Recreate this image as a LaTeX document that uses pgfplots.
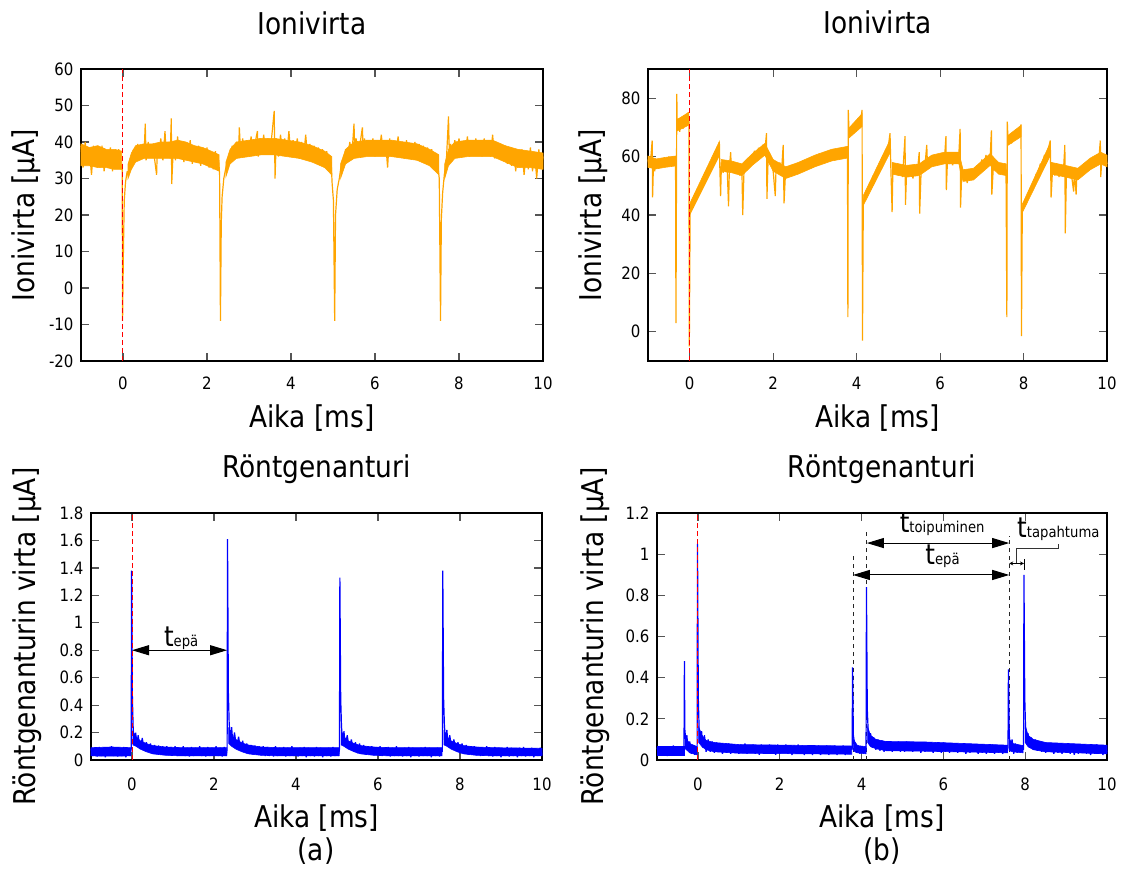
\documentclass[border=0pt]{standalone}
\usepackage{fontspec}
\setmainfont{DejaVu Sans}[FakeStretch=0.88]
\usepackage{pgfplots}
\pgfplotsset{compat=1.18}
\usetikzlibrary{arrows.meta}
\definecolor{ion}{HTML}{FFA500}
\definecolor{xr}{HTML}{0000FF}
\definecolor{redline}{HTML}{FF0000}
\definecolor{tickgray}{HTML}{555555}
\newcommand{\fbig}{\fontsize{30}{36}\selectfont}
\newcommand{\ftick}{\fontsize{17}{20}\selectfont}
\newcommand{\tsym}[1]{{\fontsize{28}{30}\selectfont t}{\fontsize{15}{18}\selectfont #1}}
\pgfplotsset{
  myaxis/.style={
    scale only axis, anchor=south west,
    xmin=-1, xmax=10, xtick={0,2,4,6,8,10},
    axis line style={black, line width=1.3pt},
    tick style={tickgray, line width=1.2pt},
    major tick length=8pt, tick align=inside,
    /pgf/number format/assume math mode=true,
    every tick label/.append style={font=\ftick},
    xticklabel style={anchor=base, yshift=-28pt},
    yticklabel style={anchor=east, xshift=-4pt},
    every axis title/.style={at={(axis description cs:0.5,1)}, anchor=base, yshift=35pt, font=\fbig},
    every axis x label/.style={at={(axis description cs:0.5,0)}, anchor=base, yshift=-66pt, font=\fbig},
    every axis y label/.style={at={(axis description cs:0,0.5)}, rotate=90, anchor=base, font=\fbig},
    clip=false,
  },
  ionl/.style={color=ion, line width=1.2pt, line join=bevel, mark=none},
  xrl/.style={color=xr, line width=1.2pt, line join=bevel, mark=none},
  ionf/.style={fill=ion, draw=ion, line width=0.6pt, mark=none},
  xrf/.style={fill=xr, draw=xr, line width=0.6pt, mark=none},
  redl/.style={draw=redline, color=redline, dash pattern=on 5pt off 3pt, line width=1pt, mark=none},
  blk/.style={color=black!85, dash pattern=on 4pt off 4pt, line width=0.9pt, mark=none},
}
\begin{document}
\begin{tikzpicture}
\useasboundingbox (0pt,0pt) rectangle (1122pt,-873pt);
% ---------------- top left
\begin{axis}[myaxis, at={(81pt,-361pt)}, width=462pt, height=292pt,
  ymin=-20, ymax=60, ytick={-20,-10,0,10,20,30,40,50,60},
  title={Ionivirta}, xlabel={Aika [ms]}, ylabel={Ionivirta [µA]}, ylabel style={yshift=46pt}]
\addplot[ionf] coordinates {(-1,39.5) (-0.8,38.5) (-0.6,39) (-0.4,38) (-0.2,38) (-0.03,37.5) (-0.03,32.5) (-0.2,32.5) (-0.4,33) (-0.6,33) (-0.8,33.5) (-1,33.5)} -- cycle;
\addplot[ionf] coordinates {(0.12,34) (0.2,37) (0.3,39) (0.5,39.5) (0.7,39.5) (0.9,40) (1.1,40) (1.3,40.5) (1.5,40) (1.7,39) (1.9,38.5) (2.1,37.5) (2.29,36.5) (2.29,32) (2.1,33) (1.9,34) (1.7,34.5) (1.5,35) (1.3,35.5) (1.1,35.5) (0.9,35.5) (0.7,35.5) (0.5,35.5) (0.3,34.5) (0.2,32.5) (0.12,30)} -- cycle;
\addplot[ionf] coordinates {(2.45,34.5) (2.55,38) (2.7,40) (3.0,40.5) (3.3,41) (3.6,41) (3.9,40.5) (4.2,40) (4.5,39) (4.8,37.5) (4.97,36) (4.97,31) (4.8,33) (4.5,34.5) (4.2,35.5) (3.9,36) (3.6,36.5) (3.3,36.5) (3.0,36) (2.7,35.5) (2.55,34) (2.45,30.5)} -- cycle;
\addplot[ionf] coordinates {(5.18,34) (5.3,38) (5.5,40) (5.8,40.5) (6.1,40.5) (6.4,40.5) (6.7,40) (7.0,39.5) (7.3,38) (7.52,36.5) (7.52,31) (7.3,33.5) (7.0,35) (6.7,35.5) (6.4,36) (6.1,36) (5.8,36) (5.5,35.5) (5.3,34) (5.18,30)} -- cycle;
\addplot[ionf] coordinates {(7.66,34) (7.75,38) (7.9,40) (8.2,40.5) (8.5,40.5) (8.8,40.5) (9.1,39) (9.4,38) (9.7,37.5) (10,37) (10,32.5) (9.7,33) (9.4,33) (9.1,34.5) (8.8,36) (8.5,36) (8.2,36) (7.9,35.5) (7.75,33.5) (7.66,30)} -- cycle;
\addplot[ionl] coordinates {
(-1.00,39) (-0.95,33) (-0.90,40) (-0.85,34) (-0.80,38) (-0.75,31) (-0.70,39) (-0.65,34) (-0.60,37.5) (-0.55,33) (-0.50,39) (-0.45,32) (-0.40,37) (-0.35,33.5) (-0.30,38.5) (-0.25,32) (-0.20,36.5) (-0.15,33) (-0.10,38) (-0.05,32.5) (-0.02,34) (-0.01,-9) (0.01,10) (0.03,24) (0.06,29) (0.10,32) (0.13,30.5) (0.16,35) (0.20,33.5) (0.25,38) (0.30,35) (0.35,39.5) (0.40,35.5) (0.45,38.5) (0.50,36) (0.53,45) (0.55,35) (0.60,40) (0.65,36) (0.70,39) (0.75,35.5) (0.80,31) (0.82,39.5) (0.85,36) (0.90,41) (0.95,35) (1.00,43) (1.03,36) (1.08,40) (1.12,35.5) (1.15,46.5) (1.16,28.5) (1.20,39) (1.25,35) (1.30,41.5) (1.35,35.5) (1.40,40) (1.45,34.5) (1.50,39.5) (1.55,35) (1.60,40.5) (1.65,34) (1.70,38.5) (1.75,35) (1.80,39) (1.85,33.5) (1.90,38) (1.95,34) (2.00,38.5) (2.05,33) (2.10,37) (2.15,32.5) (2.20,37.5) (2.25,33) (2.28,35) (2.30,31) (2.32,-9) (2.34,18) (2.36,25) (2.40,30) (2.45,33) (2.50,35.5) (2.55,34.5) (2.60,39) (2.65,36) (2.70,40) (2.75,36.5) (2.77,44) (2.80,37) (2.85,41) (2.90,36) (2.95,40.5) (3.00,37) (3.05,41.5) (3.10,36.5) (3.15,40) (3.20,43) (3.22,36) (3.25,41) (3.30,37) (3.35,42) (3.40,36.5) (3.45,41) (3.50,37) (3.55,42.5) (3.60,48.5) (3.62,30) (3.65,41) (3.70,36) (3.75,42) (3.80,37) (3.85,41) (3.90,36.5) (3.95,43) (4.00,36) (4.05,40.5) (4.10,37) (4.15,41) (4.20,35.5) (4.25,40) (4.30,36) (4.35,42) (4.40,35) (4.45,39.5) (4.50,35.5) (4.55,39) (4.60,34) (4.65,38.5) (4.70,34.5) (4.75,38) (4.80,33) (4.85,37.5) (4.90,33) (4.95,36) (4.98,28.5) (5.01,24) (5.04,-9) (5.06,20) (5.10,27) (5.15,30) (5.20,34) (5.25,33.5) (5.30,38) (5.35,36) (5.40,40) (5.45,36.5) (5.50,45) (5.52,37) (5.55,41) (5.60,36) (5.65,40) (5.70,44) (5.72,37) (5.75,41) (5.80,36.5) (5.85,40.5) (5.90,37) (5.95,41) (6.00,36) (6.05,40) (6.10,37) (6.15,42) (6.20,36.5) (6.25,40.5) (6.30,33) (6.32,37) (6.35,41) (6.40,36) (6.45,40) (6.50,37) (6.55,41.5) (6.60,36.5) (6.65,40) (6.70,36) (6.75,40.5) (6.80,35.5) (6.85,39.5) (6.90,36) (6.95,40) (7.00,35) (7.05,39.5) (7.10,35.5) (7.15,39) (7.20,34.5) (7.25,38.5) (7.30,34) (7.35,38) (7.40,33.5) (7.45,37) (7.50,33) (7.53,30) (7.56,-9) (7.58,19) (7.61,26) (7.65,31) (7.70,35) (7.75,47) (7.77,36) (7.80,39.5) (7.85,36) (7.90,40.5) (7.95,37) (8.00,41) (8.05,36.5) (8.10,40) (8.15,37) (8.20,41.5) (8.25,36) (8.30,40) (8.35,36.5) (8.40,41) (8.45,37) (8.50,40.5) (8.55,36) (8.60,41) (8.65,36.5) (8.70,40) (8.75,36) (8.80,42) (8.85,35.5) (8.90,40) (8.95,36) (9.00,39.5) (9.05,35) (9.10,39) (9.15,34) (9.20,38.5) (9.25,33.5) (9.30,38) (9.35,32) (9.40,37.5) (9.45,33) (9.50,38) (9.55,31) (9.60,37) (9.65,32.5) (9.70,38.5) (9.75,32) (9.80,37) (9.85,30) (9.90,38) (9.95,33) (10.00,36)
};
\addplot[redl] coordinates {(0,-20) (0,60)};
\end{axis}
% ---------------- top right
\begin{axis}[myaxis, at={(648pt,-361pt)}, width=459pt, height=292pt,
  ymin=-10, ymax=90, ytick={0,20,40,60,80},
  title={Ionivirta}, xlabel={Aika [ms]}, ylabel={Ionivirta [µA]}, ylabel style={yshift=47pt}]
\addplot[ionf] coordinates {(-1,60.2) (-0.8,59.2) (-0.6,59.7) (-0.34,60.2) (-0.34,56.8) (-0.6,56.3) (-0.8,55.8) (-1,56.3)} -- cycle;
\addplot[ionf] coordinates {(-0.3,72.7) (-0.02,75.2) (-0.02,70.8) (-0.3,68.8)} -- cycle;
\addplot[ionf] coordinates {(0.01,44.2) (0.71,65.2) (0.71,60.3) (0.01,40.3)} -- cycle;
\addplot[ionf] coordinates {(0.76,59) (1.0,58.5) (1.25,57.5) (1.5,61) (1.8,64.5) (2.0,59) (2.3,56.5) (2.6,58) (3.0,60.5) (3.4,62.5) (3.78,63.5) (3.78,59.5) (3.4,58.5) (3.0,56.5) (2.6,54) (2.3,52.5) (2.0,55) (1.8,60.5) (1.5,57) (1.25,53.5) (1.0,54.5) (0.76,55)} -- cycle;
\addplot[ionf] coordinates {(3.81,69.7) (4.13,74.7) (4.13,70.3) (3.81,66.3)} -- cycle;
\addplot[ionf] coordinates {(4.16,46.7) (4.8,65.7) (4.8,61.3) (4.16,43.3)} -- cycle;
\addplot[ionf] coordinates {(4.85,58) (5.2,57) (5.5,57.5) (5.8,60.5) (6.1,61.5) (6.45,61.5) (6.55,55.5) (6.8,56) (7.2,61) (7.4,58) (7.59,57.5) (7.59,53.5) (7.4,54) (7.2,57) (6.8,52) (6.55,51.5) (6.45,57.5) (6.1,57.5) (5.8,56.5) (5.5,53.5) (5.2,53) (4.85,54)} -- cycle;
\addplot[ionf] coordinates {(7.62,67.2) (7.94,70.7) (7.94,66.8) (7.62,63.8)} -- cycle;
\addplot[ionf] coordinates {(7.97,43.7) (8.64,64.7) (8.64,60.3) (7.97,40.8)} -- cycle;
\addplot[ionf] coordinates {(8.67,58) (9.0,57) (9.3,56) (9.6,59.5) (9.85,61.5) (10,60.5) (10,56.5) (9.85,57.5) (9.6,55.5) (9.3,52) (9.0,53) (8.67,54)} -- cycle;
\addplot[ionl] coordinates {
(-1.00,59) (-0.97,56.5) (-0.93,60) (-0.90,65.5) (-0.89,46) (-0.87,57) (-0.84,55) (-0.80,58.5) (-0.75,56) (-0.70,59) (-0.65,56.5) (-0.60,59.5) (-0.55,57) (-0.50,60) (-0.45,57) (-0.40,60) (-0.36,57.5) (-0.34,59) (-0.33,3) (-0.31,81.5) (-0.30,70) (-0.27,73) (-0.24,68.5) (-0.20,73.5) (-0.16,69.5) (-0.12,74) (-0.08,70.5) (-0.04,75) (-0.02,72) (-0.01,-5) (0.01,41.5) (0.04,44) (0.08,42.5) (0.12,46) (0.16,45) (0.20,48.5) (0.25,47.5) (0.30,51) (0.35,50.5) (0.40,54) (0.45,53.5) (0.50,57.5) (0.55,57) (0.60,61) (0.65,60.5) (0.70,64) (0.71,65) (0.72,57) (0.74,46.5) (0.76,58) (0.80,54.5) (0.85,58.5) (0.90,55) (0.93,43) (0.95,56) (0.98,61.5) (1.00,55.5) (1.05,58) (1.10,54) (1.15,57.5) (1.20,53.5) (1.25,56) (1.27,40) (1.30,55) (1.35,58) (1.40,56.5) (1.45,60) (1.50,58.5) (1.55,62) (1.60,60.5) (1.65,63) (1.70,61.5) (1.75,64) (1.80,62) (1.84,68) (1.85,45.5) (1.88,60) (1.92,57.5) (1.96,59) (2.00,55) (2.05,46.5) (2.07,57) (2.12,55) (2.16,58) (2.20,55) (2.24,64) (2.26,44) (2.30,56) (2.35,53) (2.40,55) (2.45,53.5) (2.50,56) (2.55,54.5) (2.60,57) (2.65,55.5) (2.70,58) (2.75,56.5) (2.80,58.5) (2.85,57) (2.90,59.5) (2.95,57.5) (3.00,60) (3.05,58) (3.10,61) (3.15,58.5) (3.20,60.5) (3.25,59) (3.30,61.5) (3.35,59) (3.40,62) (3.45,59.5) (3.50,61.5) (3.55,60) (3.60,62.5) (3.65,60) (3.70,62) (3.75,60.5) (3.78,62) (3.79,5) (3.80,76) (3.82,67) (3.86,69.5) (3.90,68) (3.95,70.5) (4.00,69.5) (4.05,72) (4.10,72.5) (4.13,76) (4.14,-3) (4.16,44.5) (4.20,47) (4.25,46.5) (4.30,50) (4.35,50) (4.40,53.5) (4.45,53) (4.50,56.5) (4.55,56) (4.60,59.5) (4.65,59) (4.70,62) (4.75,62.5) (4.80,68) (4.82,56) (4.85,41) (4.87,57) (4.90,54) (4.95,57.5) (5.00,53.5) (5.05,56.5) (5.10,53) (5.16,67) (5.17,43.5) (5.20,56) (5.25,53) (5.30,56.5) (5.35,52.5) (5.40,57) (5.45,54) (5.50,61.5) (5.51,40.5) (5.55,57) (5.60,55) (5.65,59) (5.68,64) (5.70,56) (5.75,59.5) (5.80,57) (5.85,60) (5.90,57.5) (5.95,60.5) (6.00,58) (6.05,61) (6.10,58) (6.14,67) (6.15,48.5) (6.18,60) (6.22,57.5) (6.26,60) (6.30,57) (6.35,60.5) (6.40,58) (6.45,61) (6.48,69.5) (6.49,42.5) (6.52,55) (6.56,52) (6.60,54.5) (6.65,51) (6.70,54) (6.75,52) (6.80,55.5) (6.85,54) (6.90,57) (6.95,55.5) (7.00,59) (7.05,57.5) (7.10,60.5) (7.15,58) (7.20,60) (7.23,69) (7.24,47) (7.28,57.5) (7.32,55) (7.36,57) (7.40,54.5) (7.45,56.5) (7.50,54) (7.55,56.5) (7.58,55) (7.60,5) (7.61,72) (7.63,65) (7.67,66.5) (7.71,64.5) (7.75,67.5) (7.80,66.5) (7.85,69) (7.90,68.5) (7.94,71) (7.95,-1.5) (7.97,41.5) (8.00,44) (8.05,43.5) (8.10,47) (8.15,47) (8.20,50.5) (8.25,50.5) (8.30,54) (8.35,54) (8.40,57.5) (8.45,57) (8.50,60.5) (8.55,60) (8.60,63) (8.64,65.5) (8.66,46) (8.70,57) (8.75,53.5) (8.80,56.5) (8.85,53) (8.90,57) (8.95,53.5) (8.99,64) (9.00,33.7) (9.03,56) (9.08,53) (9.12,56) (9.16,52.5) (9.20,48) (9.22,55) (9.26,47) (9.28,55) (9.32,53) (9.36,56) (9.40,54) (9.45,57) (9.50,55.5) (9.55,58.5) (9.60,57) (9.65,59.5) (9.70,58) (9.75,60.5) (9.80,58.5) (9.84,65.5) (9.85,53) (9.88,60) (9.92,57.5) (9.96,60) (10.00,57.5)
};
\addplot[redl] coordinates {(0,-10) (0,90)};
\end{axis}
% ---------------- bottom left
\begin{axis}[myaxis, at={(91pt,-760pt)}, width=451pt, height=247pt,
  ymin=0, ymax=1.8, ytick={0,0.2,0.4,0.6,0.8,1,1.2,1.4,1.6,1.8},
  xticklabel style={yshift=-2pt},
  title={Röntgenanturi}, title style={yshift=1pt}, xlabel={Aika [ms]}, xlabel style={yshift=-1pt},
  ylabel={Röntgenanturin virta [µA]}, ylabel style={yshift=55pt}]
\addplot[xrf] coordinates {(-1,0.09) (-0.5,0.095) (-0.03,0.09) (-0.03,0.03) (-0.5,0.028) (-1,0.03)} -- cycle;
\addplot[xrf] coordinates {(0.02,0.21) (0.1,0.17) (0.2,0.14) (0.35,0.12) (0.5,0.105) (0.8,0.095) (1.2,0.09) (2.31,0.09) (2.31,0.03) (1.2,0.03) (0.8,0.035) (0.5,0.045) (0.35,0.06) (0.2,0.08) (0.1,0.1) (0.02,0.11)} -- cycle;
\addplot[xrf] coordinates {(2.36,0.23) (2.43,0.18) (2.53,0.15) (2.68,0.125) (2.83,0.11) (3.13,0.095) (3.6,0.09) (5.05,0.09) (5.05,0.03) (3.6,0.03) (3.13,0.035) (2.83,0.045) (2.68,0.06) (2.53,0.08) (2.43,0.1) (2.36,0.12)} -- cycle;
\addplot[xrf] coordinates {(5.1,0.21) (5.17,0.17) (5.27,0.14) (5.42,0.12) (5.57,0.105) (5.87,0.095) (6.3,0.09) (7.56,0.09) (7.56,0.03) (6.3,0.03) (5.87,0.035) (5.57,0.045) (5.42,0.06) (5.27,0.08) (5.17,0.1) (5.1,0.11)} -- cycle;
\addplot[xrf] coordinates {(7.61,0.21) (7.68,0.17) (7.78,0.14) (7.93,0.12) (8.08,0.105) (8.38,0.095) (8.8,0.09) (10,0.085) (10,0.03) (8.8,0.03) (8.38,0.035) (8.08,0.045) (7.93,0.06) (7.78,0.08) (7.68,0.1) (7.61,0.11)} -- cycle;
\addplot[xrl] coordinates {
(-1,0.08) (-0.95,0.03) (-0.9,0.09) (-0.85,0.025) (-0.8,0.095) (-0.75,0.03) (-0.7,0.085) (-0.65,0.02) (-0.6,0.09) (-0.55,0.035) (-0.5,0.1) (-0.45,0.03) (-0.4,0.085) (-0.35,0.025) (-0.3,0.09) (-0.25,0.03) (-0.2,0.095) (-0.15,0.02) (-0.1,0.085) (-0.05,0.03) (-0.02,0.08) (-0.01,1.38) (0.01,0.45) (0.03,0.22) (0.06,0.12) (0.09,0.2) (0.12,0.1) (0.15,0.18) (0.2,0.08) (0.25,0.16) (0.3,0.07) (0.35,0.13) (0.4,0.06) (0.45,0.12) (0.5,0.05) (0.55,0.11) (0.6,0.05) (0.65,0.105) (0.7,0.04) (0.75,0.1) (0.8,0.04) (0.85,0.1) (0.9,0.035) (0.95,0.095) (1,0.04) (1.05,0.1) (1.1,0.03) (1.15,0.09) (1.2,0.035) (1.25,0.1) (1.3,0.03) (1.35,0.09) (1.4,0.025) (1.45,0.095) (1.5,0.03) (1.55,0.09) (1.6,0.035) (1.65,0.1) (1.7,0.03) (1.75,0.09) (1.8,0.025) (1.85,0.095) (1.9,0.03) (1.95,0.09) (2,0.035) (2.05,0.1) (2.1,0.03) (2.15,0.09) (2.2,0.025) (2.25,0.095) (2.3,0.03) (2.32,0.08) (2.33,1.61) (2.35,0.5) (2.37,0.27) (2.4,0.14) (2.43,0.24) (2.46,0.12) (2.5,0.2) (2.55,0.09) (2.6,0.17) (2.65,0.07) (2.7,0.14) (2.75,0.06) (2.8,0.12) (2.85,0.05) (2.9,0.11) (2.95,0.04) (3,0.105) (3.05,0.04) (3.1,0.1) (3.15,0.035) (3.2,0.1) (3.25,0.03) (3.3,0.095) (3.35,0.03) (3.4,0.09) (3.45,0.025) (3.5,0.1) (3.55,0.03) (3.6,0.09) (3.65,0.035) (3.7,0.095) (3.75,0.025) (3.8,0.09) (3.85,0.03) (3.9,0.1) (3.95,0.03) (4,0.085) (4.05,0.025) (4.1,0.09) (4.15,0.03) (4.2,0.095) (4.25,0.02) (4.3,0.09) (4.35,0.03) (4.4,0.085) (4.45,0.025) (4.5,0.095) (4.55,0.03) (4.6,0.09) (4.65,0.02) (4.7,0.085) (4.75,0.03) (4.8,0.09) (4.85,0.025) (4.9,0.095) (4.95,0.03) (5,0.085) (5.04,0.03) (5.06,0.08) (5.07,1.33) (5.09,0.45) (5.11,0.24) (5.14,0.13) (5.17,0.21) (5.2,0.1) (5.25,0.18) (5.3,0.08) (5.35,0.15) (5.4,0.07) (5.45,0.13) (5.5,0.05) (5.55,0.12) (5.6,0.05) (5.65,0.11) (5.7,0.04) (5.75,0.1) (5.8,0.04) (5.85,0.1) (5.9,0.035) (5.95,0.095) (6,0.04) (6.05,0.1) (6.1,0.03) (6.15,0.09) (6.2,0.035) (6.25,0.095) (6.3,0.025) (6.35,0.09) (6.4,0.03) (6.45,0.1) (6.5,0.03) (6.55,0.085) (6.6,0.025) (6.65,0.09) (6.7,0.03) (6.75,0.095) (6.8,0.02) (6.85,0.09) (6.9,0.03) (6.95,0.085) (7,0.025) (7.05,0.09) (7.1,0.03) (7.15,0.095) (7.2,0.03) (7.25,0.09) (7.3,0.02) (7.35,0.085) (7.4,0.03) (7.45,0.09) (7.5,0.025) (7.55,0.08) (7.57,0.06) (7.58,1.38) (7.6,0.45) (7.62,0.25) (7.65,0.13) (7.68,0.22) (7.71,0.1) (7.75,0.18) (7.8,0.08) (7.85,0.15) (7.9,0.07) (7.95,0.13) (8,0.05) (8.05,0.12) (8.1,0.05) (8.15,0.11) (8.2,0.04) (8.25,0.1) (8.3,0.04) (8.35,0.1) (8.4,0.035) (8.45,0.095) (8.5,0.03) (8.55,0.09) (8.6,0.035) (8.65,0.1) (8.7,0.03) (8.75,0.09) (8.8,0.025) (8.85,0.095) (8.9,0.03) (8.95,0.09) (9,0.02) (9.05,0.085) (9.1,0.03) (9.15,0.095) (9.2,0.025) (9.25,0.09) (9.3,0.03) (9.35,0.085) (9.4,0.02) (9.45,0.09) (9.5,0.03) (9.55,0.095) (9.6,0.025) (9.65,0.085) (9.7,0.03) (9.75,0.09) (9.8,0.02) (9.85,0.085) (9.9,0.03) (9.95,0.09) (10,0.04)
};
\addplot[redl] coordinates {(0,0) (0,1.8)};
\draw[{Triangle[length=17pt,width=10pt]}-{Triangle[length=17pt,width=10pt]}, line width=1pt] (axis cs:0,0.8) -- (axis cs:2.32,0.8);
\node[anchor=base, inner sep=0pt] at (axis cs:1.2,0.8) [yshift=4pt] {\tsym{epä}};
\end{axis}
% ---------------- bottom right
\begin{axis}[myaxis, at={(657pt,-760pt)}, width=450pt, height=247pt,
  ymin=0, ymax=1.2, ytick={0,0.2,0.4,0.6,0.8,1,1.2},
  xticklabel style={yshift=-2pt},
  title={Röntgenanturi}, title style={yshift=1pt}, xlabel={Aika [ms]}, xlabel style={yshift=-1pt},
  ylabel={Röntgenanturin virta [µA]}, ylabel style={yshift=54pt}]
\addplot[blk] coordinates {(3.79,0) (3.79,1.006)};
\addplot[blk] coordinates {(4.13,0) (4.13,1.127)};
\addplot[blk] coordinates {(7.61,0) (7.61,1.09)};
\addplot[xrf] coordinates {(-1,0.065) (-0.34,0.065) (-0.34,0.025) (-1,0.025)} -- cycle;
\addplot[xrf] coordinates {(-0.31,0.11) (-0.2,0.08) (-0.02,0.065) (-0.02,0.025) (-0.2,0.035) (-0.31,0.055)} -- cycle;
\addplot[xrf] coordinates {(0.02,0.16) (0.1,0.12) (0.2,0.095) (0.4,0.085) (1,0.075) (3.76,0.068) (3.76,0.028) (1,0.033) (0.4,0.04) (0.2,0.05) (0.1,0.065) (0.02,0.085)} -- cycle;
\addplot[xrf] coordinates {(3.8,0.1) (3.9,0.07) (4.11,0.065) (4.11,0.03) (3.9,0.035) (3.8,0.045)} -- cycle;
\addplot[xrf] coordinates {(4.15,0.16) (4.22,0.12) (4.35,0.1) (4.6,0.09) (5.5,0.088) (7.57,0.072) (7.57,0.035) (5.5,0.043) (4.6,0.045) (4.35,0.055) (4.22,0.065) (4.15,0.085)} -- cycle;
\addplot[xrf] coordinates {(7.61,0.1) (7.7,0.08) (7.95,0.07) (7.95,0.035) (7.7,0.04) (7.61,0.045)} -- cycle;
\addplot[xrf] coordinates {(8.0,0.17) (8.07,0.12) (8.2,0.1) (8.5,0.085) (10,0.072) (10,0.03) (8.5,0.04) (8.2,0.05) (8.07,0.065) (8.0,0.085)} -- cycle;
\addplot[xrl] coordinates {
(-1,0.06) (-0.95,0.025) (-0.9,0.065) (-0.85,0.03) (-0.8,0.06) (-0.75,0.02) (-0.7,0.065) (-0.65,0.03) (-0.6,0.07) (-0.55,0.025) (-0.5,0.06) (-0.45,0.03) (-0.4,0.065) (-0.36,0.025) (-0.34,0.06) (-0.33,0.48) (-0.32,0.15) (-0.3,0.1) (-0.27,0.12) (-0.24,0.05) (-0.2,0.09) (-0.16,0.03) (-0.12,0.07) (-0.08,0.025) (-0.04,0.06) (-0.02,0.04) (-0.01,1.05) (0.01,0.3) (0.03,0.15) (0.06,0.08) (0.09,0.14) (0.12,0.06) (0.16,0.12) (0.2,0.04) (0.25,0.1) (0.3,0.04) (0.35,0.09) (0.4,0.035) (0.45,0.085) (0.5,0.04) (0.55,0.08) (0.6,0.03) (0.65,0.075) (0.7,0.035) (0.75,0.08) (0.8,0.03) (0.85,0.075) (0.9,0.035) (0.95,0.07) (1,0.03) (1.05,0.075) (1.1,0.035) (1.15,0.08) (1.2,0.03) (1.25,0.07) (1.3,0.035) (1.35,0.075) (1.4,0.03) (1.45,0.07) (1.5,0.025) (1.55,0.075) (1.6,0.03) (1.65,0.07) (1.7,0.035) (1.75,0.075) (1.8,0.03) (1.85,0.07) (1.9,0.025) (1.95,0.075) (2,0.03) (2.05,0.07) (2.1,0.035) (2.15,0.075) (2.2,0.03) (2.25,0.065) (2.3,0.025) (2.35,0.07) (2.4,0.03) (2.45,0.075) (2.5,0.03) (2.55,0.07) (2.6,0.025) (2.65,0.065) (2.7,0.03) (2.75,0.07) (2.8,0.025) (2.85,0.065) (2.9,0.03) (2.95,0.07) (3,0.025) (3.05,0.065) (3.1,0.03) (3.15,0.07) (3.2,0.025) (3.25,0.065) (3.3,0.03) (3.35,0.07) (3.4,0.025) (3.45,0.065) (3.5,0.03) (3.55,0.07) (3.6,0.025) (3.65,0.065) (3.7,0.03) (3.75,0.065) (3.77,0.05) (3.78,0.45) (3.8,0.12) (3.83,0.08) (3.87,0.035) (3.92,0.07) (3.96,0.03) (4,0.065) (4.04,0.035) (4.08,0.06) (4.11,0.045) (4.12,0.84) (4.14,0.25) (4.16,0.15) (4.19,0.08) (4.22,0.13) (4.26,0.06) (4.3,0.11) (4.35,0.05) (4.4,0.1) (4.45,0.045) (4.5,0.095) (4.55,0.04) (4.6,0.09) (4.65,0.045) (4.7,0.09) (4.75,0.04) (4.8,0.085) (4.85,0.045) (4.9,0.09) (4.95,0.04) (5,0.085) (5.05,0.04) (5.1,0.09) (5.15,0.045) (5.2,0.085) (5.25,0.04) (5.3,0.08) (5.35,0.045) (5.4,0.085) (5.45,0.035) (5.5,0.08) (5.55,0.04) (5.6,0.085) (5.65,0.045) (5.7,0.08) (5.75,0.035) (5.8,0.085) (5.85,0.04) (5.9,0.08) (5.95,0.035) (6,0.085) (6.05,0.04) (6.1,0.08) (6.15,0.035) (6.2,0.075) (6.25,0.04) (6.3,0.08) (6.35,0.035) (6.4,0.075) (6.45,0.04) (6.5,0.08) (6.55,0.03) (6.6,0.075) (6.65,0.035) (6.7,0.07) (6.75,0.04) (6.8,0.075) (6.85,0.03) (6.9,0.07) (6.95,0.035) (7,0.075) (7.05,0.03) (7.1,0.07) (7.15,0.035) (7.2,0.075) (7.25,0.03) (7.3,0.07) (7.35,0.035) (7.4,0.065) (7.45,0.03) (7.5,0.07) (7.55,0.035) (7.58,0.06) (7.59,0.44) (7.61,0.12) (7.64,0.06) (7.68,0.1) (7.72,0.03) (7.76,0.08) (7.8,0.035) (7.85,0.07) (7.9,0.04) (7.94,0.07) (7.96,0.05) (7.97,0.9) (7.99,0.3) (8.01,0.15) (8.04,0.08) (8.07,0.13) (8.1,0.06) (8.15,0.11) (8.2,0.05) (8.25,0.1) (8.3,0.045) (8.35,0.09) (8.4,0.04) (8.45,0.085) (8.5,0.035) (8.55,0.08) (8.6,0.04) (8.65,0.075) (8.7,0.03) (8.75,0.08) (8.8,0.035) (8.85,0.075) (8.9,0.03) (8.95,0.07) (9,0.035) (9.05,0.075) (9.1,0.03) (9.15,0.07) (9.2,0.025) (9.25,0.075) (9.3,0.03) (9.35,0.07) (9.4,0.035) (9.45,0.075) (9.5,0.03) (9.55,0.065) (9.6,0.025) (9.65,0.07) (9.7,0.03) (9.75,0.075) (9.8,0.03) (9.85,0.07) (9.9,0.025) (9.95,0.065) (10,0.04)
};
\addplot[redl] coordinates {(0,0) (0,1.2)};
\draw[{Triangle[length=17pt,width=10pt]}-{Triangle[length=17pt,width=10pt]}, line width=1pt] (axis cs:4.13,1.054) -- (axis cs:7.61,1.054);
\draw[{Triangle[length=17pt,width=10pt]}-{Triangle[length=17pt,width=10pt]}, line width=1pt] (axis cs:3.79,0.899) -- (axis cs:7.61,0.899);
\draw[{Stealth[length=4pt,width=4pt]}-{Stealth[length=4pt,width=4pt]}, line width=0.8pt] (axis cs:7.61,0.955) -- (axis cs:7.97,0.955);
\draw[line width=0.8pt] (axis cs:7.97,0.925) -- (axis cs:7.97,0.975);
\draw[line width=0.8pt, black!80] (axis cs:7.775,0.955) -- (axis cs:7.775,1.03) -- (axis cs:8.80,1.03) -- (axis cs:8.80,1.05);
\node[anchor=base, inner sep=0pt] at (axis cs:5.97,1.103) {\tsym{toipuminen}};
\node[anchor=base, inner sep=0pt] at (axis cs:5.98,0.948) {\tsym{epä}};
\node[anchor=base, inner sep=0pt] at (axis cs:8.81,1.083) {\tsym{tapahtuma}};
\end{axis}
\node[anchor=base, font=\fbig] at (316pt,-860pt) {(a)};
\node[anchor=base, font=\fbig] at (882pt,-860pt) {(b)};
\end{tikzpicture}
\end{document}
